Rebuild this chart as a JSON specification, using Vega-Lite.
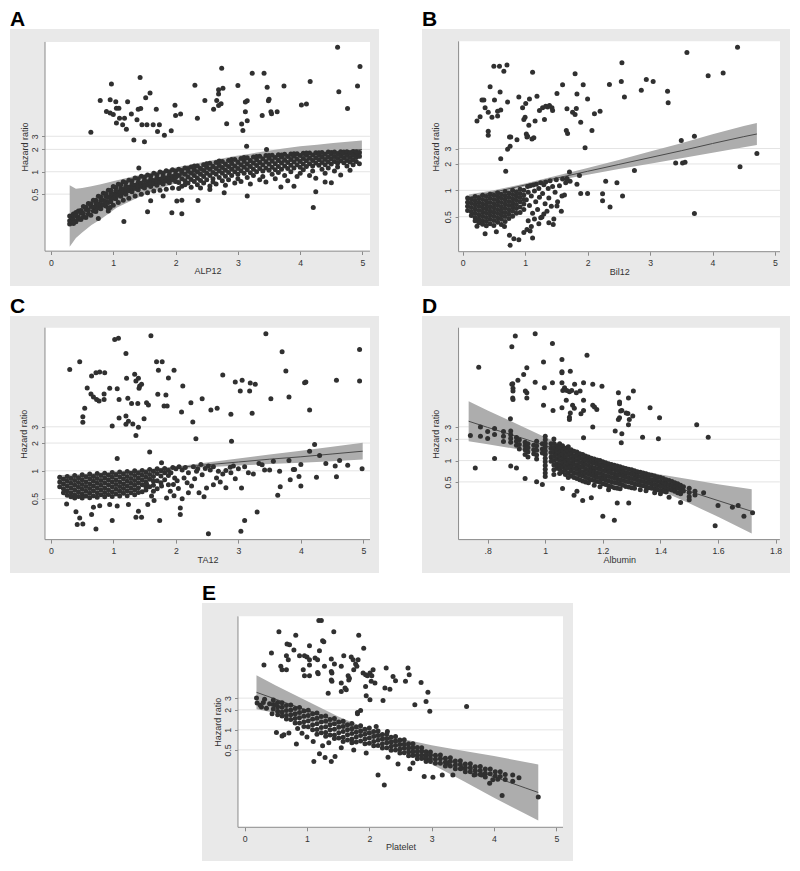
{
"$schema":"https://vega.github.io/schema/vega-lite/v6.json",
"background":"white",
"padding":{"left":10,"top":9,"right":10,"bottom":5},
"spacing":10,
"config":{
 "view":{"stroke":null},
 "font":"Liberation Sans",
 "title":{"fontSize":21,"fontWeight":"bold","anchor":"start","offset":-1,"color":"#000000","font":"Liberation Sans"},
 "axis":{"domain":false,"grid":false,"tickSize":3.5,"tickColor":"#8a8a8a","tickWidth":1,"labelFontSize":8.7,"labelColor":"#333333","labelFont":"Liberation Sans","titleFont":"Liberation Sans","titleFontSize":9,"titleFontWeight":"normal","titleColor":"#333333","labelFlush":false,"labelOverlap":false,"zindex":1,"titleBaseline":"alphabetic"},
 "axisX":{"labelPadding":3.5,"titleY":22.5,"format":"~g"},
 "axisY":{"labelAngle":-90,"labelAlign":"center","labelBaseline":"alphabetic","labelPadding":4.5,"titleAngle":-90}
},
"datasets":{
 "g":[{"t":-0.693147},{"t":0},{"t":0.693147},{"t":1.098612}],
 "ac":[{"x":0.3,"lo":-2.32,"hi":-0.42,"fit":-1.47},{"x":0.4,"lo":-2.05,"hi":-0.53,"fit":-1.35},{"x":0.5,"lo":-1.88,"hi":-0.5,"fit":-1.24},{"x":0.65,"lo":-1.65,"hi":-0.45,"fit":-1.1},{"x":0.8,"lo":-1.47,"hi":-0.39,"fit":-0.96},{"x":1.06,"lo":-1.11,"hi":-0.26,"fit":-0.72},{"x":1.33,"lo":-0.86,"hi":-0.14,"fit":-0.53},{"x":1.6,"lo":-0.63,"hi":-0.03,"fit":-0.37},{"x":1.85,"lo":-0.45,"hi":0.07,"fit":-0.24},{"x":2.12,"lo":-0.28,"hi":0.18,"fit":-0.1},{"x":2.39,"lo":-0.14,"hi":0.28,"fit":0.02},{"x":2.66,"lo":-0.03,"hi":0.38,"fit":0.12},{"x":2.93,"lo":0.07,"hi":0.48,"fit":0.2},{"x":3.2,"lo":0.15,"hi":0.56,"fit":0.29},{"x":3.46,"lo":0.22,"hi":0.64,"fit":0.37},{"x":3.73,"lo":0.28,"hi":0.72,"fit":0.44},{"x":4.0,"lo":0.33,"hi":0.79,"fit":0.5},{"x":4.27,"lo":0.36,"hi":0.84,"fit":0.56},{"x":4.53,"lo":0.38,"hi":0.89,"fit":0.61},{"x":4.99,"lo":0.4,"hi":0.97,"fit":0.69}],
 "bc":[{"x":0.1,"lo":-0.27,"hi":-0.11,"fit":-0.19},{"x":0.5,"lo":-0.1,"hi":0.0,"fit":-0.05},{"x":1.0,"lo":0.1,"hi":0.18,"fit":0.14},{"x":1.5,"lo":0.26,"hi":0.38,"fit":0.32},{"x":2.0,"lo":0.41,"hi":0.59,"fit":0.5},{"x":2.5,"lo":0.56,"hi":0.8,"fit":0.68},{"x":3.0,"lo":0.7,"hi":1.02,"fit":0.86},{"x":3.5,"lo":0.84,"hi":1.24,"fit":1.04},{"x":4.0,"lo":0.99,"hi":1.47,"fit":1.23},{"x":4.5,"lo":1.13,"hi":1.69,"fit":1.41},{"x":4.71,"lo":1.19,"hi":1.77,"fit":1.48}],
 "cc":[{"x":0.12,"lo":-0.25,"hi":-0.11,"fit":-0.18},{"x":0.5,"lo":-0.18,"hi":-0.08,"fit":-0.13},{"x":1.0,"lo":-0.09,"hi":-0.02,"fit":-0.06},{"x":1.5,"lo":-0.02,"hi":0.04,"fit":0.01},{"x":2.0,"lo":0.04,"hi":0.11,"fit":0.08},{"x":2.5,"lo":0.09,"hi":0.21,"fit":0.15},{"x":3.0,"lo":0.13,"hi":0.31,"fit":0.22},{"x":3.5,"lo":0.17,"hi":0.41,"fit":0.29},{"x":4.0,"lo":0.2,"hi":0.5,"fit":0.35},{"x":4.5,"lo":0.24,"hi":0.6,"fit":0.42},{"x":4.99,"lo":0.28,"hi":0.7,"fit":0.49}],
 "dc":[{"x":0.734,"lo":0.63,"hi":1.93,"fit":1.28},{"x":0.8,"lo":0.53,"hi":1.63,"fit":1.08},{"x":0.9,"lo":0.38,"hi":1.2,"fit":0.79},{"x":1.0,"lo":0.22,"hi":0.76,"fit":0.49},{"x":1.1,"lo":0.03,"hi":0.35,"fit":0.19},{"x":1.2,"lo":-0.22,"hi":0.0,"fit":-0.11},{"x":1.3,"lo":-0.56,"hi":-0.26,"fit":-0.41},{"x":1.4,"lo":-0.97,"hi":-0.45,"fit":-0.71},{"x":1.5,"lo":-1.39,"hi":-0.61,"fit":-1.0},{"x":1.6,"lo":-1.83,"hi":-0.77,"fit":-1.3},{"x":1.717,"lo":-2.37,"hi":-0.93,"fit":-1.65}],
 "ec":[{"x":0.19,"lo":0.71,"hi":1.89,"fit":1.3},{"x":0.5,"lo":0.58,"hi":1.54,"fit":1.06},{"x":1.0,"lo":0.36,"hi":1.0,"fit":0.68},{"x":1.5,"lo":0.12,"hi":0.46,"fit":0.29},{"x":2.0,"lo":-0.19,"hi":0.01,"fit":-0.09},{"x":2.5,"lo":-0.64,"hi":-0.3,"fit":-0.47},{"x":3.0,"lo":-1.19,"hi":-0.53,"fit":-0.86},{"x":3.5,"lo":-1.76,"hi":-0.72,"fit":-1.24},{"x":4.0,"lo":-2.35,"hi":-0.91,"fit":-1.63},{"x":4.5,"lo":-2.91,"hi":-1.11,"fit":-2.01},{"x":4.71,"lo":-3.14,"hi":-1.2,"fit":-2.17}],
 "a":[{"x":4.6,"y":3.86},{"x":4.96,"y":3.26},{"x":2.74,"y":3.21},{"x":3.23,"y":3.05},{"x":3.42,"y":3.05},{"x":1.43,"y":2.92},{"x":0.97,"y":2.72},{"x":4.16,"y":2.8},{"x":4.92,"y":2.66},{"x":4.62,"y":2.48},{"x":2.31,"y":2.68},{"x":3.0,"y":2.67},{"x":3.47,"y":2.62},{"x":3.74,"y":2.66},{"x":2.76,"y":2.59},{"x":2.69,"y":2.54},{"x":2.69,"y":2.41},{"x":1.59,"y":2.44},{"x":1.52,"y":2.29},{"x":0.79,"y":2.21},{"x":0.95,"y":2.23},{"x":1.04,"y":2.17},{"x":1.23,"y":2.17},{"x":1.99,"y":2.06},{"x":2.47,"y":2.21},{"x":2.66,"y":2.21},{"x":2.73,"y":2.11},{"x":2.69,"y":2.05},{"x":2.61,"y":1.94},{"x":3.15,"y":2.2},{"x":3.12,"y":2.16},{"x":3.5,"y":2.25},{"x":3.49,"y":2.2},{"x":4.02,"y":2.07},{"x":4.1,"y":2.1},{"x":4.76,"y":1.96},{"x":0.89,"y":1.87},{"x":0.95,"y":1.82},{"x":1.0,"y":1.77},{"x":1.05,"y":1.97},{"x":1.09,"y":1.97},{"x":1.1,"y":1.66},{"x":1.18,"y":1.66},{"x":1.05,"y":1.51},{"x":1.15,"y":1.46},{"x":1.21,"y":1.32},{"x":1.29,"y":1.79},{"x":1.4,"y":1.94},{"x":1.44,"y":1.96},{"x":1.38,"y":1.61},{"x":1.46,"y":1.46},{"x":1.54,"y":1.46},{"x":1.64,"y":1.46},{"x":1.69,"y":1.94},{"x":1.74,"y":1.46},{"x":1.71,"y":1.25},{"x":1.82,"y":1.13},{"x":1.93,"y":1.27},{"x":2.0,"y":1.74},{"x":2.08,"y":1.79},{"x":2.35,"y":1.66},{"x":2.82,"y":1.49},{"x":3.12,"y":1.86},{"x":3.15,"y":1.58},{"x":3.06,"y":1.48},{"x":3.08,"y":1.28},{"x":3.39,"y":1.74},{"x":3.54,"y":1.8},{"x":3.53,"y":1.86},{"x":3.63,"y":1.86},{"x":0.64,"y":1.22},{"x":1.33,"y":0.98},{"x":1.5,"y":0.93},{"x":3.14,"y":0.79},{"x":3.46,"y":0.69},{"x":1.41,"y":0.12},
 {"x":0.3,"y":-1.37},{"x":0.3,"y":-1.52},{"x":0.3,"y":-1.62},{"x":0.33,"y":-1.4},{"x":0.33,"y":-1.46},{"x":0.33,"y":-1.55},{"x":0.36,"y":-1.31},{"x":0.36,"y":-1.48},{"x":0.36,"y":-1.6},{"x":0.4,"y":-1.26},{"x":0.4,"y":-1.36},{"x":0.4,"y":-1.55},{"x":0.44,"y":-1.22},{"x":0.44,"y":-1.4},{"x":0.44,"y":-1.47},{"x":0.48,"y":-1.2},{"x":0.48,"y":-1.28},{"x":0.48,"y":-1.48},{"x":0.52,"y":-1.08},{"x":0.52,"y":-1.29},{"x":0.52,"y":-1.4},{"x":0.56,"y":-1.1},{"x":0.56,"y":-1.17},{"x":0.56,"y":-1.42},{"x":0.6,"y":-0.98},{"x":0.6,"y":-1.19},{"x":0.6,"y":-1.31},{"x":0.64,"y":-0.99},{"x":0.64,"y":-1.08},{"x":0.64,"y":-1.35},{"x":0.68,"y":-0.88},{"x":0.68,"y":-1.1},{"x":0.68,"y":-1.22},{"x":0.72,"y":-0.88},{"x":0.72,"y":-0.97},{"x":0.72,"y":-1.23},{"x":0.72,"y":-1.1},{"x":0.76,"y":-0.76},{"x":0.76,"y":-0.99},{"x":0.76,"y":-1.12},{"x":0.8,"y":-0.78},{"x":0.8,"y":-0.88},{"x":0.8,"y":-1.15},{"x":0.8,"y":-1.02},{"x":0.84,"y":-0.67},{"x":0.84,"y":-0.89},{"x":0.84,"y":-1.03},{"x":0.88,"y":-0.68},{"x":0.88,"y":-0.77},{"x":0.88,"y":-1.06},{"x":0.88,"y":-0.92},{"x":0.92,"y":-0.57},{"x":0.92,"y":-0.79},{"x":0.92,"y":-0.95},{"x":0.92,"y":-1.12},{"x":0.96,"y":-0.57},{"x":0.96,"y":-0.69},{"x":0.96,"y":-0.93},{"x":0.96,"y":-0.82},{"x":1.0,"y":-0.46},{"x":1.0,"y":-0.7},{"x":1.0,"y":-0.82},{"x":1.0,"y":-1.04},{"x":1.04,"y":-0.49},{"x":1.04,"y":-0.6},{"x":1.04,"y":-0.84},{"x":1.04,"y":-0.72},{"x":1.08,"y":-0.39},{"x":1.08,"y":-0.62},{"x":1.08,"y":-0.73},{"x":1.08,"y":-0.95},{"x":1.12,"y":-0.4},{"x":1.12,"y":-0.52},{"x":1.12,"y":-0.76},{"x":1.12,"y":-0.65},{"x":1.16,"y":-0.31},{"x":1.16,"y":-0.55},{"x":1.16,"y":-0.66},{"x":1.16,"y":-0.88},{"x":1.2,"y":-0.34},{"x":1.2,"y":-0.46},{"x":1.2,"y":-0.7},{"x":1.2,"y":-0.58},{"x":1.25,"y":-0.26},{"x":1.25,"y":-0.48},{"x":1.25,"y":-0.59},{"x":1.25,"y":-0.82},{"x":1.3,"y":-0.28},{"x":1.3,"y":-0.39},{"x":1.3,"y":-0.62},{"x":1.3,"y":-0.5},{"x":1.35,"y":-0.19},{"x":1.35,"y":-0.42},{"x":1.35,"y":-0.52},{"x":1.35,"y":-0.75},{"x":1.4,"y":-0.22},{"x":1.4,"y":-0.33},{"x":1.4,"y":-0.56},{"x":1.4,"y":-0.45},{"x":1.45,"y":-0.14},{"x":1.45,"y":-0.36},{"x":1.45,"y":-0.46},{"x":1.45,"y":-0.7},{"x":1.5,"y":-0.17},{"x":1.5,"y":-0.27},{"x":1.5,"y":-0.5},{"x":1.5,"y":-0.4},{"x":1.55,"y":-0.1},{"x":1.55,"y":-0.31},{"x":1.55,"y":-0.41},{"x":1.55,"y":-0.65},{"x":1.6,"y":-0.13},{"x":1.6,"y":-0.23},{"x":1.6,"y":-0.46},{"x":1.6,"y":-0.35},{"x":1.65,"y":-0.05},{"x":1.65,"y":-0.27},{"x":1.65,"y":-0.37},{"x":1.65,"y":-0.6},{"x":1.7,"y":-0.09},{"x":1.7,"y":-0.19},{"x":1.7,"y":-0.42},{"x":1.7,"y":-0.3},{"x":1.75,"y":-0.01},{"x":1.75,"y":-0.23},{"x":1.75,"y":-0.33},{"x":1.75,"y":-0.57},{"x":1.8,"y":-0.05},{"x":1.8,"y":-0.15},{"x":1.8,"y":-0.38},{"x":1.8,"y":-0.26},{"x":1.85,"y":0.03},{"x":1.85,"y":-0.19},{"x":1.85,"y":-0.29},{"x":1.85,"y":-0.54},{"x":1.9,"y":-0.01},{"x":1.9,"y":-0.11},{"x":1.9,"y":-0.34},{"x":1.9,"y":-0.22},{"x":1.95,"y":0.06},{"x":1.95,"y":-0.15},{"x":1.95,"y":-0.25},{"x":1.95,"y":-0.5},{"x":2.0,"y":0.02},{"x":2.0,"y":-0.08},{"x":2.0,"y":-0.3},{"x":2.0,"y":-0.18},
 {"x":2.05,"y":0.08},{"x":2.05,"y":-0.12},{"x":2.05,"y":-0.33},{"x":2.05,"y":-0.52},{"x":2.1,"y":-0.02},{"x":2.1,"y":0.04},{"x":2.1,"y":-0.22},{"x":2.1,"y":-0.45},{"x":2.15,"y":0.12},{"x":2.15,"y":-0.08},{"x":2.15,"y":-0.28},{"x":2.15,"y":-0.4},{"x":2.2,"y":0.02},{"x":2.2,"y":-0.16},{"x":2.2,"y":-0.35},{"x":2.2,"y":0.1},{"x":2.25,"y":0.15},{"x":2.25,"y":-0.04},{"x":2.25,"y":-0.24},{"x":2.25,"y":-0.48},{"x":2.3,"y":0.06},{"x":2.3,"y":-0.12},{"x":2.3,"y":-0.3},{"x":2.3,"y":0.18},{"x":2.35,"y":0.18},{"x":2.35,"y":0.0},{"x":2.35,"y":-0.2},{"x":2.35,"y":-0.4},{"x":2.4,"y":0.1},{"x":2.4,"y":-0.08},{"x":2.4,"y":-0.27},{"x":2.4,"y":-0.5},{"x":2.45,"y":0.22},{"x":2.45,"y":0.04},{"x":2.45,"y":-0.15},{"x":2.45,"y":-0.35},{"x":2.5,"y":0.14},{"x":2.5,"y":-0.05},{"x":2.5,"y":-0.25},{"x":2.5,"y":0.25},{"x":2.55,"y":0.26},{"x":2.55,"y":0.08},{"x":2.55,"y":-0.12},{"x":2.55,"y":-0.44},{"x":2.6,"y":0.17},{"x":2.6,"y":-0.02},{"x":2.6,"y":-0.22},{"x":2.6,"y":-0.32},{"x":2.65,"y":0.29},{"x":2.65,"y":0.1},{"x":2.65,"y":-0.08},{"x":2.65,"y":-0.38},{"x":2.7,"y":0.2},{"x":2.7,"y":0.02},{"x":2.7,"y":-0.18},{"x":2.7,"y":0.33},{"x":2.75,"y":0.32},{"x":2.75,"y":0.13},{"x":2.75,"y":-0.05},{"x":2.75,"y":-0.28},{"x":2.8,"y":0.24},{"x":2.8,"y":0.05},{"x":2.8,"y":-0.14},{"x":2.8,"y":-0.42},{"x":2.85,"y":0.35},{"x":2.85,"y":0.16},{"x":2.85,"y":-0.02},{"x":2.85,"y":-0.25},{"x":2.9,"y":0.26},{"x":2.9,"y":0.08},{"x":2.9,"y":-0.12},{"x":2.9,"y":0.38},{"x":2.95,"y":0.38},{"x":2.95,"y":0.18},{"x":2.95,"y":0.0},{"x":2.95,"y":-0.35},{"x":3.0,"y":0.3},{"x":3.0,"y":0.1},{"x":3.0,"y":-0.08},{"x":3.0,"y":-0.22},{"x":3.05,"y":0.41},{"x":3.05,"y":0.22},{"x":3.05,"y":0.03},{"x":3.05,"y":-0.3},{"x":3.1,"y":0.33},{"x":3.1,"y":0.14},{"x":3.1,"y":-0.05},{"x":3.1,"y":0.44},{"x":3.15,"y":0.43},{"x":3.15,"y":0.24},{"x":3.15,"y":0.06},{"x":3.15,"y":-0.18},{"x":3.2,"y":0.35},{"x":3.2,"y":0.16},{"x":3.2,"y":-0.03},{"x":3.2,"y":-0.38},{"x":3.25,"y":0.46},{"x":3.25,"y":0.27},{"x":3.25,"y":0.08},{"x":3.25,"y":-0.12},{"x":3.3,"y":0.37},{"x":3.3,"y":0.19},{"x":3.3,"y":0.0},{"x":3.3,"y":0.47},{"x":3.35,"y":0.48},{"x":3.35,"y":0.29},{"x":3.35,"y":0.1},{"x":3.35,"y":-0.25},{"x":3.4,"y":0.4},{"x":3.4,"y":0.21},{"x":3.4,"y":0.02},{"x":3.4,"y":-0.15},{"x":3.45,"y":0.5},{"x":3.45,"y":0.31},{"x":3.45,"y":0.12},{"x":3.45,"y":-0.32},{"x":3.5,"y":0.42},{"x":3.5,"y":0.23},{"x":3.5,"y":0.05},{"x":3.5,"y":0.5},{"x":3.55,"y":0.51},{"x":3.55,"y":0.33},{"x":3.55,"y":0.14},{"x":3.55,"y":-0.08},{"x":3.6,"y":0.44},{"x":3.6,"y":0.25},{"x":3.6,"y":0.06},{"x":3.6,"y":-0.22},{"x":3.65,"y":0.53},{"x":3.65,"y":0.35},{"x":3.65,"y":0.16},{"x":3.65,"y":-0.02},{"x":3.7,"y":0.46},{"x":3.7,"y":0.27},{"x":3.7,"y":0.08},{"x":3.7,"y":0.52},{"x":3.75,"y":0.54},{"x":3.75,"y":0.36},{"x":3.75,"y":0.18},{"x":3.75,"y":-0.12},{"x":3.8,"y":0.47},{"x":3.8,"y":0.29},{"x":3.8,"y":0.1},{"x":3.8,"y":-0.28},{"x":3.85,"y":0.55},{"x":3.85,"y":0.38},{"x":3.85,"y":0.2},{"x":3.85,"y":0.0},{"x":3.9,"y":0.48},{"x":3.9,"y":0.3},{"x":3.9,"y":0.12},{"x":3.9,"y":0.56},{"x":3.95,"y":0.56},{"x":3.95,"y":0.39},{"x":3.95,"y":0.22},{"x":3.95,"y":-0.15},{"x":4.0,"y":0.5},{"x":4.0,"y":0.32},{"x":4.0,"y":0.14},{"x":4.0,"y":-0.05},{"x":4.05,"y":0.57},{"x":4.05,"y":0.41},{"x":4.05,"y":0.24},{"x":4.05,"y":0.06},{"x":4.1,"y":0.51},{"x":4.1,"y":0.34},{"x":4.1,"y":0.16},{"x":4.1,"y":0.58},{"x":4.15,"y":0.58},{"x":4.15,"y":0.42},{"x":4.15,"y":0.25},{"x":4.15,"y":-0.12},{"x":4.2,"y":0.52},{"x":4.2,"y":0.35},{"x":4.2,"y":0.18},{"x":4.2,"y":0.02},{"x":4.25,"y":0.59},{"x":4.25,"y":0.43},{"x":4.25,"y":0.27},{"x":4.25,"y":-0.2},{"x":4.3,"y":0.53},{"x":4.3,"y":0.37},{"x":4.3,"y":0.2},{"x":4.3,"y":0.59},{"x":4.35,"y":0.6},{"x":4.35,"y":0.45},{"x":4.35,"y":0.29},{"x":4.35,"y":0.08},{"x":4.4,"y":0.54},{"x":4.4,"y":0.38},{"x":4.4,"y":0.22},{"x":4.4,"y":-0.05},{"x":4.45,"y":0.61},{"x":4.45,"y":0.46},{"x":4.45,"y":0.3},{"x":4.45,"y":0.12},{"x":4.5,"y":0.55},{"x":4.5,"y":0.4},{"x":4.5,"y":0.24},{"x":4.5,"y":0.6},{"x":4.55,"y":0.61},{"x":4.55,"y":0.47},{"x":4.55,"y":0.32},{"x":4.55,"y":0.02},{"x":4.6,"y":0.56},{"x":4.6,"y":0.41},{"x":4.6,"y":0.26},{"x":4.6,"y":0.15},{"x":4.65,"y":0.62},{"x":4.65,"y":0.49},{"x":4.65,"y":0.34},{"x":4.65,"y":-0.1},{"x":4.7,"y":0.57},{"x":4.7,"y":0.43},{"x":4.7,"y":0.28},{"x":4.7,"y":0.61},{"x":4.75,"y":0.62},{"x":4.75,"y":0.5},{"x":4.75,"y":0.35},{"x":4.75,"y":0.18},{"x":4.8,"y":0.58},{"x":4.8,"y":0.44},{"x":4.8,"y":0.3},{"x":4.8,"y":0.05},{"x":4.85,"y":0.63},{"x":4.85,"y":0.51},{"x":4.85,"y":0.37},{"x":4.85,"y":0.22},{"x":4.9,"y":0.59},{"x":4.9,"y":0.46},{"x":4.9,"y":0.32},{"x":4.9,"y":0.62},{"x":4.95,"y":0.6},{"x":4.95,"y":0.48},{"x":4.95,"y":0.25},
 {"x":0.36,"y":-1.57},{"x":0.76,"y":-1.45},{"x":0.92,"y":-1.22},{"x":0.95,"y":-1.11},{"x":1.17,"y":-1.54},{"x":1.55,"y":-1.24},{"x":1.94,"y":-1.27},{"x":2.1,"y":-1.3},{"x":2.36,"y":-0.89},{"x":2.78,"y":-0.65},{"x":3.15,"y":-0.75},{"x":3.69,"y":-0.47},{"x":4.21,"y":-1.11},{"x":4.25,"y":-0.62},{"x":4.5,"y":-0.34},{"x":1.6,"y":-0.9},{"x":1.8,"y":-0.75},{"x":2.02,"y":-0.91},{"x":2.1,"y":-0.88},{"x":2.55,"y":-0.55},{"x":3.9,"y":-0.45},{"x":4.4,"y":-0.32}],
 "b":[{"x":4.4,"y":3.76},{"x":3.59,"y":3.62},{"x":2.55,"y":3.35},{"x":0.71,"y":3.29},{"x":0.5,"y":3.26},{"x":0.59,"y":3.26},{"x":0.66,"y":3.13},{"x":1.12,"y":3.1},{"x":1.8,"y":3.06},{"x":3.93,"y":3.01},{"x":4.17,"y":3.08},{"x":2.94,"y":2.91},{"x":3.05,"y":2.86},{"x":2.54,"y":2.86},{"x":1.6,"y":2.77},{"x":2.35,"y":2.78},{"x":0.44,"y":2.72},{"x":0.6,"y":2.58},{"x":2.86,"y":2.63},{"x":3.28,"y":2.6},{"x":1.93,"y":2.77},{"x":2.59,"y":2.45},{"x":0.31,"y":2.37},{"x":0.34,"y":2.37},{"x":0.51,"y":2.37},{"x":0.72,"y":2.32},{"x":0.9,"y":2.45},{"x":1.07,"y":2.4},{"x":1.19,"y":2.47},{"x":1.51,"y":2.54},{"x":1.83,"y":2.53},{"x":2.0,"y":2.4},{"x":3.29,"y":2.3},{"x":1.01,"y":2.28},{"x":0.36,"y":2.17},{"x":0.41,"y":2.05},{"x":0.56,"y":2.08},{"x":0.61,"y":2.11},{"x":0.56,"y":1.95},{"x":0.47,"y":1.92},{"x":0.23,"y":1.82},{"x":0.28,"y":1.93},{"x":0.96,"y":2.17},{"x":1.0,"y":1.92},{"x":0.98,"y":1.86},{"x":1.06,"y":1.71},{"x":1.16,"y":1.82},{"x":1.31,"y":1.86},{"x":1.23,"y":2.1},{"x":1.28,"y":2.17},{"x":1.39,"y":2.23},{"x":1.43,"y":2.17},{"x":1.36,"y":2.19},{"x":1.33,"y":2.21},{"x":1.44,"y":2.1},{"x":1.67,"y":2.14},{"x":1.76,"y":2.05},{"x":1.82,"y":2.15},{"x":1.8,"y":1.99},{"x":1.89,"y":1.79},{"x":2.11,"y":2.01},{"x":2.2,"y":2.08},{"x":2.07,"y":1.57},{"x":0.41,"y":1.55},{"x":0.41,"y":1.45},{"x":0.75,"y":1.4},{"x":0.77,"y":1.4},{"x":0.87,"y":1.33},{"x":1.03,"y":1.4},{"x":1.02,"y":1.48},{"x":1.04,"y":1.42},{"x":1.14,"y":1.38},{"x":1.11,"y":1.35},{"x":1.66,"y":1.57},{"x":1.68,"y":1.49},{"x":1.96,"y":1.12},{"x":0.61,"y":0.83},{"x":0.72,"y":1.08},{"x":0.76,"y":1.16},{"x":0.69,"y":0.5},{"x":3.71,"y":1.42},{"x":3.5,"y":1.31},{"x":4.71,"y":0.97},{"x":3.41,"y":0.72},{"x":3.52,"y":0.72},{"x":3.56,"y":0.74},{"x":4.44,"y":0.62},{"x":1.71,"y":0.48},{"x":1.67,"y":0.31},{"x":1.87,"y":0.39},{"x":2.75,"y":0.52},{"x":2.29,"y":0.24},{"x":2.47,"y":0.2},{"x":1.89,"y":-0.08},{"x":2.0,"y":-0.08},{"x":2.24,"y":-0.09},{"x":2.24,"y":-0.27},{"x":2.36,"y":-0.44},{"x":2.56,"y":-0.15},{"x":3.71,"y":-0.61},
 {"x":0.08,"y":-0.2},{"x":0.08,"y":-0.31},{"x":0.08,"y":-0.42},{"x":0.08,"y":-0.53},{"x":0.14,"y":-0.23},{"x":0.14,"y":-0.34},{"x":0.14,"y":-0.45},{"x":0.14,"y":-0.56},{"x":0.14,"y":-0.66},{"x":0.2,"y":-0.16},{"x":0.2,"y":-0.27},{"x":0.2,"y":-0.38},{"x":0.2,"y":-0.49},{"x":0.2,"y":-0.6},{"x":0.2,"y":-0.71},{"x":0.2,"y":-0.8},{"x":0.26,"y":-0.2},{"x":0.26,"y":-0.31},{"x":0.26,"y":-0.42},{"x":0.26,"y":-0.53},{"x":0.26,"y":-0.64},{"x":0.26,"y":-0.75},{"x":0.26,"y":-0.85},{"x":0.32,"y":-0.13},{"x":0.32,"y":-0.24},{"x":0.32,"y":-0.35},{"x":0.32,"y":-0.46},{"x":0.32,"y":-0.57},{"x":0.32,"y":-0.68},{"x":0.32,"y":-0.79},{"x":0.32,"y":-0.89},{"x":0.38,"y":-0.16},{"x":0.38,"y":-0.27},{"x":0.38,"y":-0.38},{"x":0.38,"y":-0.49},{"x":0.38,"y":-0.6},{"x":0.38,"y":-0.71},{"x":0.38,"y":-0.82},{"x":0.38,"y":-0.93},{"x":0.44,"y":-0.1},{"x":0.44,"y":-0.21},{"x":0.44,"y":-0.32},{"x":0.44,"y":-0.43},{"x":0.44,"y":-0.54},{"x":0.44,"y":-0.65},{"x":0.44,"y":-0.76},{"x":0.44,"y":-0.88},{"x":0.5,"y":-0.13},{"x":0.5,"y":-0.24},{"x":0.5,"y":-0.35},{"x":0.5,"y":-0.46},{"x":0.5,"y":-0.57},{"x":0.5,"y":-0.68},{"x":0.5,"y":-0.79},{"x":0.5,"y":-0.92},{"x":0.56,"y":-0.06},{"x":0.56,"y":-0.17},{"x":0.56,"y":-0.28},{"x":0.56,"y":-0.39},{"x":0.56,"y":-0.5},{"x":0.56,"y":-0.61},{"x":0.56,"y":-0.72},{"x":0.56,"y":-0.84},{"x":0.62,"y":-0.1},{"x":0.62,"y":-0.21},{"x":0.62,"y":-0.32},{"x":0.62,"y":-0.43},{"x":0.62,"y":-0.54},{"x":0.62,"y":-0.65},{"x":0.62,"y":-0.76},{"x":0.62,"y":-0.9},{"x":0.68,"y":-0.03},{"x":0.68,"y":-0.14},{"x":0.68,"y":-0.25},{"x":0.68,"y":-0.36},{"x":0.68,"y":-0.47},{"x":0.68,"y":-0.58},{"x":0.68,"y":-0.69},{"x":0.68,"y":-0.82},{"x":0.74,"y":-0.07},{"x":0.74,"y":-0.18},{"x":0.74,"y":-0.29},{"x":0.74,"y":-0.4},{"x":0.74,"y":-0.51},{"x":0.74,"y":-0.62},{"x":0.74,"y":-0.74},{"x":0.8,"y":0.0},{"x":0.8,"y":-0.11},{"x":0.8,"y":-0.22},{"x":0.8,"y":-0.33},{"x":0.8,"y":-0.44},{"x":0.8,"y":-0.55},{"x":0.8,"y":-0.68},{"x":0.86,"y":-0.04},{"x":0.86,"y":-0.15},{"x":0.86,"y":-0.26},{"x":0.86,"y":-0.37},{"x":0.86,"y":-0.48},{"x":0.86,"y":-0.6},{"x":0.92,"y":0.03},{"x":0.92,"y":-0.08},{"x":0.92,"y":-0.19},{"x":0.92,"y":-0.3},{"x":0.92,"y":-0.44},{"x":0.92,"y":-0.58},{"x":0.98,"y":0.0},{"x":0.98,"y":-0.12},{"x":0.98,"y":-0.24},{"x":0.98,"y":-0.36},{"x":0.98,"y":-0.5},
 {"x":1.02,"y":-0.25},{"x":1.04,"y":0.1},{"x":1.05,"y":-0.05},{"x":1.07,"y":-0.4},{"x":1.08,"y":0.12},{"x":1.1,"y":-0.15},{"x":1.12,"y":-0.6},{"x":1.13,"y":0.14},{"x":1.15,"y":-0.02},{"x":1.17,"y":-0.3},{"x":1.18,"y":0.16},{"x":1.2,"y":-0.5},{"x":1.22,"y":0.05},{"x":1.23,"y":-0.18},{"x":1.25,"y":0.2},{"x":1.27,"y":-0.7},{"x":1.28,"y":-0.08},{"x":1.3,"y":0.15},{"x":1.32,"y":-0.35},{"x":1.33,"y":0.22},{"x":1.35,"y":-0.55},{"x":1.37,"y":0.05},{"x":1.38,"y":-0.2},{"x":1.4,"y":0.25},{"x":1.42,"y":-0.42},{"x":1.44,"y":0.1},{"x":1.46,"y":-0.75},{"x":1.48,"y":-0.05},{"x":1.5,"y":0.28},{"x":1.52,"y":-0.3},{"x":1.55,"y":0.12},{"x":1.58,"y":-0.55},{"x":1.6,"y":0.3},{"x":1.63,"y":-0.12},{"x":1.65,"y":0.2},{"x":1.05,"y":-0.8},{"x":1.1,"y":-0.95},{"x":1.15,"y":-0.75},{"x":1.22,"y":-0.88},{"x":1.3,"y":-0.62},{"x":1.38,"y":-0.85},{"x":1.45,"y":-0.9},{"x":0.36,"y":-1.14},{"x":0.54,"y":-1.09},{"x":0.75,"y":-1.18},{"x":0.76,"y":-1.44},{"x":0.82,"y":-1.27},{"x":0.9,"y":-1.3},{"x":0.98,"y":-1.11},{"x":1.12,"y":-1.25},{"x":0.67,"y":-0.95},{"x":1.03,"y":-1.03},{"x":1.08,"y":-1.07},{"x":1.25,"y":-0.72},{"x":1.51,"y":-0.41},{"x":1.59,"y":-0.15},{"x":1.72,"y":0.24},{"x":1.83,"y":0.16},{"x":1.67,"y":0.29},{"x":0.23,"y":-0.94}],
 "c":[{"x":3.44,"y":3.42},{"x":1.02,"y":3.28},{"x":1.08,"y":3.31},{"x":1.6,"y":3.37},{"x":4.94,"y":3.03},{"x":3.7,"y":2.97},{"x":1.2,"y":2.93},{"x":0.46,"y":2.72},{"x":1.69,"y":2.72},{"x":1.78,"y":2.72},{"x":0.3,"y":2.53},{"x":0.65,"y":2.37},{"x":0.72,"y":2.45},{"x":0.78,"y":2.47},{"x":0.86,"y":2.45},{"x":1.72,"y":2.51},{"x":1.97,"y":2.51},{"x":2.75,"y":2.39},{"x":3.76,"y":2.49},{"x":1.21,"y":2.31},{"x":1.34,"y":2.41},{"x":1.4,"y":2.31},{"x":1.36,"y":2.24},{"x":1.45,"y":2.16},{"x":1.42,"y":2.12},{"x":1.88,"y":2.32},{"x":2.11,"y":2.12},{"x":2.95,"y":2.22},{"x":3.06,"y":2.26},{"x":3.19,"y":2.19},{"x":3.27,"y":2.16},{"x":4.06,"y":2.2},{"x":4.08,"y":2.22},{"x":4.57,"y":2.26},{"x":4.94,"y":2.24},{"x":0.58,"y":2.07},{"x":0.64,"y":1.92},{"x":0.68,"y":1.84},{"x":0.73,"y":1.78},{"x":0.77,"y":1.74},{"x":0.85,"y":1.78},{"x":0.85,"y":1.92},{"x":0.94,"y":2.06},{"x":1.06,"y":2.05},{"x":1.09,"y":1.78},{"x":1.23,"y":1.81},{"x":1.29,"y":1.68},{"x":1.39,"y":1.68},{"x":1.41,"y":2.06},{"x":1.53,"y":1.7},{"x":1.56,"y":1.64},{"x":1.71,"y":1.91},{"x":1.84,"y":1.89},{"x":1.81,"y":1.62},{"x":1.86,"y":1.62},{"x":2.09,"y":1.47},{"x":2.24,"y":1.7},{"x":2.42,"y":1.8},{"x":2.56,"y":1.52},{"x":2.66,"y":1.56},{"x":2.88,"y":1.41},{"x":3.03,"y":1.99},{"x":3.18,"y":1.99},{"x":3.22,"y":1.44},{"x":3.52,"y":1.8},{"x":3.81,"y":1.84},{"x":4.14,"y":1.52},{"x":0.54,"y":1.56},{"x":0.51,"y":1.35},{"x":0.51,"y":1.21},{"x":0.98,"y":1.12},{"x":1.09,"y":1.32},{"x":1.2,"y":1.37},{"x":1.24,"y":1.24},{"x":1.31,"y":1.17},{"x":1.4,"y":1.09},{"x":1.49,"y":1.3},{"x":1.36,"y":0.88},{"x":1.2,"y":1.16},{"x":2.27,"y":1.22},{"x":2.32,"y":0.8},{"x":2.89,"y":0.74},{"x":1.58,"y":0.47},{"x":1.06,"y":0.31},{"x":1.77,"y":0.2},
 {"x":0.14,"y":-0.16},{"x":0.14,"y":-0.28},{"x":0.14,"y":-0.4},{"x":0.2,"y":-0.21},{"x":0.2,"y":-0.33},{"x":0.2,"y":-0.45},{"x":0.2,"y":-0.55},{"x":0.26,"y":-0.14},{"x":0.26,"y":-0.26},{"x":0.26,"y":-0.38},{"x":0.26,"y":-0.5},{"x":0.26,"y":-0.61},{"x":0.32,"y":-0.19},{"x":0.32,"y":-0.31},{"x":0.32,"y":-0.43},{"x":0.32,"y":-0.55},{"x":0.32,"y":-0.65},{"x":0.38,"y":-0.12},{"x":0.38,"y":-0.24},{"x":0.38,"y":-0.36},{"x":0.38,"y":-0.48},{"x":0.38,"y":-0.6},{"x":0.38,"y":-0.68},{"x":0.44,"y":-0.17},{"x":0.44,"y":-0.29},{"x":0.44,"y":-0.41},{"x":0.44,"y":-0.53},{"x":0.44,"y":-0.64},{"x":0.5,"y":-0.1},{"x":0.5,"y":-0.22},{"x":0.5,"y":-0.34},{"x":0.5,"y":-0.46},{"x":0.5,"y":-0.58},{"x":0.5,"y":-0.68},{"x":0.56,"y":-0.15},{"x":0.56,"y":-0.27},{"x":0.56,"y":-0.39},{"x":0.56,"y":-0.51},{"x":0.56,"y":-0.63},{"x":0.62,"y":-0.08},{"x":0.62,"y":-0.2},{"x":0.62,"y":-0.32},{"x":0.62,"y":-0.44},{"x":0.62,"y":-0.56},{"x":0.62,"y":-0.67},{"x":0.68,"y":-0.14},{"x":0.68,"y":-0.26},{"x":0.68,"y":-0.38},{"x":0.68,"y":-0.5},{"x":0.68,"y":-0.62},{"x":0.74,"y":-0.07},{"x":0.74,"y":-0.19},{"x":0.74,"y":-0.31},{"x":0.74,"y":-0.43},{"x":0.74,"y":-0.55},{"x":0.74,"y":-0.66},{"x":0.8,"y":-0.12},{"x":0.8,"y":-0.24},{"x":0.8,"y":-0.36},{"x":0.8,"y":-0.48},{"x":0.8,"y":-0.6},{"x":0.86,"y":-0.06},{"x":0.86,"y":-0.18},{"x":0.86,"y":-0.3},{"x":0.86,"y":-0.42},{"x":0.86,"y":-0.54},{"x":0.86,"y":-0.65},{"x":0.92,"y":-0.11},{"x":0.92,"y":-0.23},{"x":0.92,"y":-0.35},{"x":0.92,"y":-0.47},{"x":0.92,"y":-0.59},{"x":0.98,"y":-0.04},{"x":0.98,"y":-0.16},{"x":0.98,"y":-0.28},{"x":0.98,"y":-0.4},{"x":0.98,"y":-0.52},{"x":0.98,"y":-0.64},{"x":1.04,"y":-0.1},{"x":1.04,"y":-0.22},{"x":1.04,"y":-0.34},{"x":1.04,"y":-0.46},{"x":1.04,"y":-0.58},{"x":1.1,"y":-0.03},{"x":1.1,"y":-0.15},{"x":1.1,"y":-0.27},{"x":1.1,"y":-0.39},{"x":1.1,"y":-0.51},{"x":1.1,"y":-0.63},{"x":1.16,"y":-0.08},{"x":1.16,"y":-0.2},{"x":1.16,"y":-0.32},{"x":1.16,"y":-0.44},{"x":1.16,"y":-0.56},{"x":1.22,"y":-0.02},{"x":1.22,"y":-0.14},{"x":1.22,"y":-0.26},{"x":1.22,"y":-0.38},{"x":1.22,"y":-0.5},{"x":1.22,"y":-0.62},{"x":1.28,"y":-0.07},{"x":1.28,"y":-0.19},{"x":1.28,"y":-0.31},{"x":1.28,"y":-0.43},{"x":1.28,"y":-0.55},{"x":1.34,"y":0.0},{"x":1.34,"y":-0.12},{"x":1.34,"y":-0.24},{"x":1.34,"y":-0.36},{"x":1.34,"y":-0.48},{"x":1.34,"y":-0.6},{"x":1.4,"y":-0.06},{"x":1.4,"y":-0.18},{"x":1.4,"y":-0.3},{"x":1.4,"y":-0.42},{"x":1.4,"y":-0.54},{"x":1.46,"y":0.01},{"x":1.46,"y":-0.11},{"x":1.46,"y":-0.23},{"x":1.46,"y":-0.35},{"x":1.46,"y":-0.52},{"x":1.52,"y":-0.04},{"x":1.52,"y":-0.16},{"x":1.52,"y":-0.28},{"x":1.52,"y":-0.4},{"x":1.52,"y":-0.48},{"x":1.58,"y":0.03},{"x":1.58,"y":-0.09},{"x":1.58,"y":-0.21},{"x":1.58,"y":-0.4},{"x":1.64,"y":-0.02},{"x":1.64,"y":-0.14},{"x":1.64,"y":-0.26},{"x":1.64,"y":-0.36},{"x":1.7,"y":0.05},{"x":1.7,"y":-0.07},{"x":1.7,"y":-0.25},{"x":1.7,"y":-0.45},{"x":1.76,"y":0.0},{"x":1.76,"y":-0.13},{"x":1.76,"y":-0.3},{"x":1.82,"y":0.06},{"x":1.82,"y":-0.05},{"x":1.82,"y":-0.22},{"x":1.88,"y":0.01},{"x":1.88,"y":-0.12},{"x":1.88,"y":-0.35},
 {"x":0.25,"y":-0.83},{"x":0.4,"y":-1.02},{"x":0.46,"y":-1.18},{"x":0.51,"y":-1.33},{"x":0.42,"y":-1.34},{"x":0.65,"y":-1.09},{"x":0.68,"y":-0.91},{"x":0.78,"y":-0.87},{"x":0.72,"y":-1.45},{"x":0.94,"y":-0.84},{"x":1.06,"y":-0.88},{"x":1.24,"y":-0.84},{"x":0.98,"y":-1.24},{"x":1.36,"y":-1.16},{"x":1.45,"y":-1.16},{"x":1.4,"y":-1.01},{"x":1.55,"y":-0.84},{"x":1.65,"y":-0.74},{"x":2.07,"y":-0.93},{"x":2.07,"y":-1.09},{"x":1.74,"y":-1.24},{"x":2.52,"y":-1.57},{"x":3.04,"y":-1.51},{"x":3.1,"y":-1.24},{"x":3.3,"y":-1.03},{"x":4.98,"y":0.05},{"x":4.25,"y":-0.16},{"x":4.0,"y":-0.38},{"x":3.97,"y":-0.14},{"x":3.9,"y":0.03},{"x":3.67,"y":-0.4},{"x":3.63,"y":-0.61},{"x":3.83,"y":-0.22},{"x":3.05,"y":-0.43},{"x":3.16,"y":-0.05},{"x":3.24,"y":-0.08},{"x":2.88,"y":-0.05},{"x":2.87,"y":0.09},{"x":2.8,"y":0.01},{"x":2.68,"y":-0.01},{"x":2.65,"y":-0.18},{"x":2.71,"y":-0.28},{"x":2.49,"y":-0.43},{"x":2.37,"y":-0.55},{"x":2.47,"y":0.06},{"x":2.52,"y":0.12},{"x":2.4,"y":0.16},{"x":2.33,"y":-0.01},{"x":2.25,"y":-0.38},{"x":2.13,"y":-0.18},{"x":2.04,"y":-0.44},{"x":1.96,"y":-0.34},{"x":1.91,"y":-0.51},{"x":1.85,"y":-0.68},{"x":1.77,"y":-0.38},{"x":1.61,"y":-0.63},{"x":1.64,"y":-0.51},{"x":1.53,"y":-0.33},{"x":4.22,"y":0.66},{"x":4.14,"y":0.49},{"x":4.3,"y":0.38},{"x":3.81,"y":0.26},{"x":3.56,"y":0.24},{"x":3.33,"y":0.18},{"x":3.42,"y":0.02},{"x":3.66,"y":-0.01},{"x":3.88,"y":0.03},{"x":4.0,"y":0.16},{"x":4.4,"y":0.18},{"x":4.55,"y":0.12},{"x":4.62,"y":0.26},{"x":4.75,"y":0.14},{"x":4.57,"y":-0.15},{"x":1.95,"y":0.08},{"x":2.0,"y":0.05},{"x":2.05,"y":0.1},{"x":2.1,"y":0.02},{"x":2.15,"y":0.08},{"x":2.2,"y":-0.05},{"x":2.28,"y":0.1},{"x":2.35,"y":0.05},{"x":2.42,"y":-0.1},{"x":2.55,"y":0.02},{"x":2.6,"y":0.1},{"x":2.75,"y":-0.08},{"x":2.92,"y":0.12},{"x":3.0,"y":0.05},{"x":3.1,"y":0.1},{"x":3.38,"y":0.15},{"x":3.5,"y":0.02},{"x":1.98,"y":-0.18},{"x":2.02,"y":-0.25},{"x":2.18,"y":-0.3},{"x":2.3,"y":-0.2},{"x":2.6,"y":-0.35},{"x":2.95,"y":-0.2},{"x":1.92,"y":-0.05},{"x":1.97,"y":-0.62},{"x":2.1,"y":-0.7},{"x":2.2,"y":-0.55},{"x":2.45,"y":-0.65},{"x":2.8,"y":-0.42}],
 "d":[{"x":0.965,"y":4.13},{"x":0.896,"y":4.05},{"x":0.884,"y":3.7},{"x":1.025,"y":3.81},{"x":1.145,"y":3.43},{"x":0.769,"y":3.04},{"x":0.994,"y":3.21},{"x":0.936,"y":3.02},{"x":0.925,"y":2.8},{"x":0.905,"y":2.61},{"x":0.884,"y":2.48},{"x":0.887,"y":2.5},{"x":0.888,"y":2.35},{"x":0.888,"y":2.26},{"x":0.887,"y":2.04},{"x":0.888,"y":1.99},{"x":0.965,"y":2.55},{"x":0.997,"y":2.37},{"x":1.025,"y":2.53},{"x":1.058,"y":3.29},{"x":1.058,"y":2.89},{"x":1.058,"y":2.86},{"x":1.087,"y":2.91},{"x":1.058,"y":2.53},{"x":1.067,"y":2.37},{"x":1.061,"y":2.28},{"x":1.075,"y":2.28},{"x":1.073,"y":1.96},{"x":1.084,"y":2.24},{"x":1.092,"y":2.28},{"x":1.102,"y":2.48},{"x":1.108,"y":2.21},{"x":1.121,"y":2.26},{"x":1.133,"y":2.53},{"x":1.133,"y":1.96},{"x":1.165,"y":2.48},{"x":1.197,"y":2.42},{"x":1.165,"y":1.8},{"x":1.179,"y":1.66},{"x":1.171,"y":1.74},{"x":1.095,"y":1.8},{"x":1.101,"y":1.7},{"x":1.087,"y":1.55},{"x":1.084,"y":1.41},{"x":1.084,"y":1.34},{"x":1.124,"y":1.52},{"x":1.133,"y":1.63},{"x":1.058,"y":1.72},{"x":1.027,"y":1.63},{"x":0.994,"y":1.8},{"x":0.936,"y":2.21},{"x":0.936,"y":2.04},{"x":0.931,"y":2.26},{"x":1.254,"y":2.21},{"x":1.258,"y":1.91},{"x":1.258,"y":1.85},{"x":1.262,"y":1.61},{"x":1.266,"y":1.63},{"x":1.281,"y":1.55},{"x":1.289,"y":2.04},{"x":1.306,"y":2.26},{"x":1.287,"y":1.53},{"x":1.292,"y":1.34},{"x":1.258,"y":1.39},{"x":1.254,"y":1.34},{"x":1.304,"y":1.45},{"x":1.289,"y":1.17},{"x":1.364,"y":1.72},{"x":1.397,"y":1.39},{"x":1.526,"y":1.17},{"x":1.566,"y":0.76},{"x":1.393,"y":0.71},{"x":1.338,"y":0.76},{"x":1.243,"y":0.96},{"x":1.266,"y":0.87},{"x":1.264,"y":0.58},{"x":1.133,"y":0.74},{"x":1.165,"y":1.09},{"x":0.879,"y":1.36},
 {"x":0.74,"y":0.82},{"x":0.757,"y":-0.24},{"x":0.775,"y":1.09},{"x":0.775,"y":0.79},{"x":0.8,"y":0.72},{"x":0.8,"y":0.95},{"x":0.824,"y":1.04},{"x":0.824,"y":0.85},{"x":0.824,"y":0.07},{"x":0.855,"y":0.79},{"x":0.855,"y":0.95},{"x":0.855,"y":0.62},{"x":0.88,"y":0.96},{"x":0.88,"y":0.84},{"x":0.88,"y":0.72},{"x":0.88,"y":0.6},{"x":0.88,"y":-0.18},{"x":0.9,"y":0.75},{"x":0.9,"y":0.63},{"x":0.9,"y":0.5},{"x":0.9,"y":-0.24},{"x":0.91,"y":0.68},{"x":0.91,"y":0.52},{"x":0.91,"y":0.38},{"x":0.93,"y":0.6},{"x":0.93,"y":0.48},{"x":0.93,"y":0.35},{"x":0.93,"y":0.2},{"x":0.93,"y":-0.58},{"x":0.94,"y":0.55},{"x":0.94,"y":0.42},{"x":0.94,"y":0.28},{"x":0.94,"y":0.12},{"x":0.96,"y":0.5},{"x":0.96,"y":0.35},{"x":0.96,"y":0.22},{"x":0.97,"y":0.63},{"x":0.97,"y":0.48},{"x":0.97,"y":0.34},{"x":0.97,"y":0.18},{"x":0.97,"y":0.05},{"x":0.97,"y":-0.69},{"x":0.99,"y":0.55},{"x":0.99,"y":0.38},{"x":0.99,"y":0.25},{"x":0.99,"y":-0.78},{"x":1.0,"y":0.79},{"x":1.0,"y":0.68},{"x":1.0,"y":0.56},{"x":1.0,"y":0.44},{"x":1.0,"y":0.32},{"x":1.0,"y":0.2},{"x":1.0,"y":0.08},{"x":1.0,"y":-0.04},{"x":1.0,"y":-0.16},{"x":1.0,"y":-0.28},{"x":1.0,"y":-0.4},{"x":1.0,"y":-0.52},{"x":1.02,"y":0.55},{"x":1.02,"y":0.4},{"x":1.02,"y":0.26},{"x":1.02,"y":0.12},{"x":1.02,"y":-0.02},{"x":1.03,"y":0.7},{"x":1.03,"y":0.56},{"x":1.03,"y":0.42},{"x":1.03,"y":0.28},{"x":1.03,"y":0.14},{"x":1.03,"y":0.0},{"x":1.03,"y":-0.14},{"x":1.03,"y":-0.3},{"x":1.03,"y":-0.45},{"x":1.04,"y":0.48},{"x":1.04,"y":0.34},{"x":1.04,"y":0.2},{"x":1.04,"y":0.05},{"x":1.04,"y":-0.1},{"x":1.04,"y":-0.25},{"x":1.05,"y":0.55},{"x":1.05,"y":0.42},{"x":1.05,"y":0.28},{"x":1.05,"y":0.14},{"x":1.05,"y":0.0},{"x":1.05,"y":-0.14},{"x":1.05,"y":-0.28},{"x":1.05,"y":-0.42},{"x":1.06,"y":0.48},{"x":1.06,"y":0.34},{"x":1.06,"y":0.2},{"x":1.06,"y":0.06},{"x":1.06,"y":-0.08},{"x":1.06,"y":-0.22},{"x":1.06,"y":-0.36},{"x":1.06,"y":-0.91},{"x":1.07,"y":0.4},{"x":1.07,"y":0.26},{"x":1.07,"y":0.12},{"x":1.07,"y":-0.02},{"x":1.07,"y":-0.16},{"x":1.07,"y":-0.3},{"x":1.07,"y":-0.45},{"x":1.08,"y":0.45},{"x":1.08,"y":0.31},{"x":1.08,"y":0.17},{"x":1.08,"y":0.03},{"x":1.08,"y":-0.11},{"x":1.08,"y":-0.25},{"x":1.08,"y":-0.4},{"x":1.08,"y":-0.55},{"x":1.09,"y":0.35},{"x":1.09,"y":0.21},{"x":1.09,"y":0.07},{"x":1.09,"y":-0.07},{"x":1.09,"y":-0.21},{"x":1.09,"y":-0.35},{"x":1.09,"y":-0.5},{"x":1.1,"y":0.3},{"x":1.1,"y":0.16},{"x":1.1,"y":0.02},{"x":1.1,"y":-0.12},{"x":1.1,"y":-0.26},{"x":1.1,"y":-0.4},{"x":1.1,"y":-0.55},{"x":1.1,"y":-1.13},{"x":1.11,"y":0.28},{"x":1.11,"y":0.14},{"x":1.11,"y":0.0},{"x":1.11,"y":-0.14},{"x":1.11,"y":-0.28},{"x":1.11,"y":-0.42},{"x":1.11,"y":-0.58},{"x":1.11,"y":-1.0},{"x":1.12,"y":0.22},{"x":1.12,"y":0.08},{"x":1.12,"y":-0.06},{"x":1.12,"y":-0.2},{"x":1.12,"y":-0.34},{"x":1.12,"y":-0.48},{"x":1.12,"y":-0.62},{"x":1.13,"y":0.2},{"x":1.13,"y":0.06},{"x":1.13,"y":-0.08},{"x":1.13,"y":-0.22},{"x":1.13,"y":-0.36},{"x":1.13,"y":-0.5},{"x":1.13,"y":-0.66},{"x":1.13,"y":-1.3},{"x":1.14,"y":0.15},{"x":1.14,"y":0.01},{"x":1.14,"y":-0.13},{"x":1.14,"y":-0.27},{"x":1.14,"y":-0.41},{"x":1.14,"y":-0.55},{"x":1.14,"y":-0.7},{"x":1.15,"y":0.12},{"x":1.15,"y":-0.02},{"x":1.15,"y":-0.16},{"x":1.15,"y":-0.3},{"x":1.15,"y":-0.44},{"x":1.15,"y":-0.58},{"x":1.15,"y":-0.72},{"x":1.16,"y":0.08},{"x":1.16,"y":-0.06},{"x":1.16,"y":-0.2},{"x":1.16,"y":-0.34},{"x":1.16,"y":-0.48},{"x":1.16,"y":-0.62},{"x":1.16,"y":-1.21},{"x":1.17,"y":0.05},{"x":1.17,"y":-0.09},{"x":1.17,"y":-0.23},{"x":1.17,"y":-0.37},{"x":1.17,"y":-0.51},{"x":1.17,"y":-0.65},{"x":1.17,"y":-0.8},{"x":1.18,"y":0.02},{"x":1.18,"y":-0.12},{"x":1.18,"y":-0.26},{"x":1.18,"y":-0.4},{"x":1.18,"y":-0.54},{"x":1.18,"y":-0.68},{"x":1.19,"y":0.0},{"x":1.19,"y":-0.14},{"x":1.19,"y":-0.28},{"x":1.19,"y":-0.42},{"x":1.19,"y":-0.56},{"x":1.19,"y":-0.7},{"x":1.19,"y":-0.85},{"x":1.2,"y":-0.04},{"x":1.2,"y":-0.18},{"x":1.2,"y":-0.32},{"x":1.2,"y":-0.46},{"x":1.2,"y":-0.6},{"x":1.2,"y":-0.75},{"x":1.2,"y":-1.81},{"x":1.21,"y":-0.07},{"x":1.21,"y":-0.21},{"x":1.21,"y":-0.35},{"x":1.21,"y":-0.49},{"x":1.21,"y":-0.63},{"x":1.21,"y":-0.78},{"x":1.22,"y":-0.1},{"x":1.22,"y":-0.24},{"x":1.22,"y":-0.38},{"x":1.22,"y":-0.52},{"x":1.22,"y":-0.66},{"x":1.22,"y":-0.82},{"x":1.22,"y":-0.95},{"x":1.23,"y":-0.13},{"x":1.23,"y":-0.27},{"x":1.23,"y":-0.41},{"x":1.23,"y":-0.55},{"x":1.23,"y":-0.69},{"x":1.23,"y":-0.84},{"x":1.24,"y":-0.15},{"x":1.24,"y":-0.29},{"x":1.24,"y":-0.43},{"x":1.24,"y":-0.57},{"x":1.24,"y":-0.71},{"x":1.24,"y":-0.88},{"x":1.24,"y":-1.94},{"x":1.25,"y":-0.18},{"x":1.25,"y":-0.32},{"x":1.25,"y":-0.46},{"x":1.25,"y":-0.6},{"x":1.25,"y":-0.74},{"x":1.25,"y":-0.9},{"x":1.25,"y":-1.38},{"x":1.26,"y":-0.2},{"x":1.26,"y":-0.34},{"x":1.26,"y":-0.48},{"x":1.26,"y":-0.62},{"x":1.26,"y":-0.76},{"x":1.26,"y":-0.92},{"x":1.27,"y":-0.23},{"x":1.27,"y":-0.37},{"x":1.27,"y":-0.51},{"x":1.27,"y":-0.65},{"x":1.27,"y":-0.8},{"x":1.28,"y":-0.26},{"x":1.28,"y":-0.4},{"x":1.28,"y":-0.54},{"x":1.28,"y":-0.68},{"x":1.28,"y":-0.84},{"x":1.29,"y":-0.28},{"x":1.29,"y":-0.42},{"x":1.29,"y":-0.56},{"x":1.29,"y":-0.7},{"x":1.29,"y":-0.86},{"x":1.29,"y":-1.38},{"x":1.3,"y":-0.3},{"x":1.3,"y":-0.44},{"x":1.3,"y":-0.58},{"x":1.3,"y":-0.72},{"x":1.3,"y":-0.88},{"x":1.31,"y":-0.33},{"x":1.31,"y":-0.47},{"x":1.31,"y":-0.61},{"x":1.31,"y":-0.75},{"x":1.31,"y":-0.9},{"x":1.32,"y":-0.36},{"x":1.32,"y":-0.5},{"x":1.32,"y":-0.64},{"x":1.32,"y":-0.78},{"x":1.33,"y":-0.38},{"x":1.33,"y":-0.52},{"x":1.33,"y":-0.66},{"x":1.33,"y":-0.8},{"x":1.33,"y":-0.95},{"x":1.34,"y":-0.4},{"x":1.34,"y":-0.54},{"x":1.34,"y":-0.68},{"x":1.34,"y":-0.82},{"x":1.35,"y":-0.43},{"x":1.35,"y":-0.57},{"x":1.35,"y":-0.71},{"x":1.35,"y":-0.85},{"x":1.35,"y":-0.98},{"x":1.36,"y":-0.46},{"x":1.36,"y":-0.6},{"x":1.36,"y":-0.74},{"x":1.36,"y":-0.88},{"x":1.37,"y":-0.48},{"x":1.37,"y":-0.62},{"x":1.37,"y":-0.76},{"x":1.37,"y":-0.9},{"x":1.38,"y":-0.5},{"x":1.38,"y":-0.64},{"x":1.38,"y":-0.78},{"x":1.38,"y":-0.92},{"x":1.38,"y":-1.05},{"x":1.39,"y":-0.53},{"x":1.39,"y":-0.67},{"x":1.39,"y":-0.81},{"x":1.39,"y":-0.95},{"x":1.4,"y":-0.55},{"x":1.4,"y":-0.69},{"x":1.4,"y":-0.83},{"x":1.4,"y":-0.97},{"x":1.4,"y":-1.08},{"x":1.41,"y":-0.58},{"x":1.41,"y":-0.72},{"x":1.41,"y":-0.86},{"x":1.41,"y":-1.0},{"x":1.42,"y":-0.62},{"x":1.42,"y":-0.76},{"x":1.42,"y":-0.9},{"x":1.42,"y":-1.02},{"x":1.43,"y":-0.65},{"x":1.43,"y":-0.79},{"x":1.43,"y":-0.93},{"x":1.43,"y":-1.19},{"x":1.44,"y":-0.68},{"x":1.44,"y":-0.82},{"x":1.44,"y":-0.96},{"x":1.45,"y":-0.72},{"x":1.45,"y":-0.86},{"x":1.45,"y":-1.0},{"x":1.46,"y":-0.75},{"x":1.46,"y":-0.89},{"x":1.46,"y":-1.05},{"x":1.47,"y":-0.8},{"x":1.47,"y":-0.94},{"x":1.47,"y":-1.08},{"x":1.47,"y":-1.36},{"x":1.48,"y":-0.85},{"x":1.48,"y":-0.99},{"x":1.5,"y":-0.9},{"x":1.5,"y":-1.04},{"x":1.5,"y":-1.18},{"x":1.5,"y":-1.27},{"x":1.52,"y":-1.0},{"x":1.52,"y":-1.12},{"x":1.55,"y":-1.05},{"x":1.59,"y":-2.12},{"x":1.6,"y":-1.46},{"x":1.65,"y":-1.52},{"x":1.67,"y":-1.46},{"x":1.69,"y":-1.81},{"x":1.72,"y":-1.7}],
 "e":[{"x":1.19,"y":3.79},{"x":1.23,"y":3.79},{"x":0.55,"y":3.4},{"x":1.43,"y":3.4},{"x":0.82,"y":3.28},{"x":1.83,"y":3.28},{"x":1.25,"y":3.09},{"x":1.27,"y":3.05},{"x":0.68,"y":2.97},{"x":0.72,"y":2.95},{"x":1.04,"y":2.91},{"x":1.91,"y":2.83},{"x":1.2,"y":2.74},{"x":0.43,"y":2.66},{"x":0.79,"y":2.77},{"x":0.67,"y":2.57},{"x":0.7,"y":2.43},{"x":0.88,"y":2.57},{"x":0.96,"y":2.57},{"x":1.0,"y":2.52},{"x":1.04,"y":2.43},{"x":1.13,"y":2.49},{"x":1.17,"y":2.43},{"x":1.39,"y":2.45},{"x":1.59,"y":2.57},{"x":1.71,"y":2.52},{"x":1.74,"y":2.43},{"x":1.82,"y":2.43},{"x":1.78,"y":2.28},{"x":1.8,"y":2.2},{"x":0.31,"y":2.25},{"x":0.58,"y":2.2},{"x":0.6,"y":2.08},{"x":0.67,"y":2.08},{"x":0.94,"y":2.08},{"x":0.96,"y":1.87},{"x":1.04,"y":1.87},{"x":1.04,"y":2.25},{"x":1.18,"y":1.94},{"x":1.17,"y":1.99},{"x":1.28,"y":2.2},{"x":1.44,"y":2.28},{"x":1.39,"y":2.02},{"x":1.4,"y":1.97},{"x":1.55,"y":2.2},{"x":1.75,"y":2.08},{"x":1.9,"y":1.97},{"x":1.94,"y":1.91},{"x":1.97,"y":1.87},{"x":2.01,"y":1.97},{"x":2.04,"y":1.87},{"x":2.06,"y":2.08},{"x":2.03,"y":1.68},{"x":2.09,"y":1.62},{"x":1.66,"y":1.87},{"x":1.67,"y":1.73},{"x":1.68,"y":1.79},{"x":1.39,"y":1.73},{"x":1.4,"y":1.68},{"x":1.55,"y":1.62},{"x":1.61,"y":1.45},{"x":1.63,"y":1.39},{"x":1.55,"y":1.33},{"x":1.34,"y":1.27},{"x":1.94,"y":1.5},{"x":1.95,"y":1.18},{"x":2.01,"y":1.04},{"x":2.22,"y":1.02},{"x":2.25,"y":1.45},{"x":2.33,"y":1.41},{"x":2.27,"y":2.14},{"x":2.38,"y":1.85},{"x":2.42,"y":1.7},{"x":2.58,"y":1.68},{"x":2.62,"y":2.14},{"x":2.64,"y":1.91},{"x":2.83,"y":1.64},{"x":2.94,"y":1.3},{"x":2.91,"y":0.98},{"x":2.97,"y":0.64},{"x":2.73,"y":0.87},{"x":3.56,"y":0.81},{"x":1.81,"y":0.56},{"x":1.86,"y":0.67},{"x":1.81,"y":0.6},{"x":2.11,"y":0.12},{"x":2.29,"y":-0.06},
 {"x":0.46,"y":1.03},{"x":0.46,"y":0.88},{"x":0.46,"y":0.72},{"x":0.53,"y":0.95},{"x":0.53,"y":0.8},{"x":0.53,"y":0.64},{"x":0.53,"y":0.52},{"x":0.6,"y":0.94},{"x":0.6,"y":0.78},{"x":0.6,"y":0.62},{"x":0.6,"y":0.48},{"x":0.67,"y":0.84},{"x":0.67,"y":0.67},{"x":0.67,"y":0.5},{"x":0.67,"y":0.38},{"x":0.74,"y":0.86},{"x":0.74,"y":0.69},{"x":0.74,"y":0.52},{"x":0.74,"y":0.36},{"x":0.81,"y":0.74},{"x":0.81,"y":0.56},{"x":0.81,"y":0.39},{"x":0.81,"y":0.24},{"x":0.88,"y":0.77},{"x":0.88,"y":0.6},{"x":0.88,"y":0.42},{"x":0.88,"y":0.24},{"x":0.95,"y":0.65},{"x":0.95,"y":0.47},{"x":0.95,"y":0.28},{"x":0.95,"y":0.12},{"x":1.02,"y":0.68},{"x":1.02,"y":0.5},{"x":1.02,"y":0.31},{"x":1.02,"y":0.11},{"x":1.09,"y":0.56},{"x":1.09,"y":0.37},{"x":1.09,"y":0.18},{"x":1.09,"y":0.0},{"x":1.16,"y":0.58},{"x":1.16,"y":0.4},{"x":1.16,"y":0.21},{"x":1.16,"y":0.01},{"x":1.16,"y":-0.15},{"x":1.23,"y":0.46},{"x":1.23,"y":0.27},{"x":1.23,"y":0.08},{"x":1.23,"y":-0.1},{"x":1.3,"y":0.48},{"x":1.3,"y":0.3},{"x":1.3,"y":0.11},{"x":1.3,"y":-0.09},{"x":1.3,"y":-0.22},{"x":1.37,"y":0.36},{"x":1.37,"y":0.18},{"x":1.37,"y":0.0},{"x":1.37,"y":-0.18},{"x":1.44,"y":0.39},{"x":1.44,"y":0.21},{"x":1.44,"y":0.02},{"x":1.44,"y":-0.18},{"x":1.44,"y":-0.3},{"x":1.51,"y":0.27},{"x":1.51,"y":0.09},{"x":1.51,"y":-0.1},{"x":1.51,"y":-0.28},{"x":1.58,"y":0.3},{"x":1.58,"y":0.12},{"x":1.58,"y":-0.06},{"x":1.58,"y":-0.26},{"x":1.58,"y":-0.4},{"x":1.65,"y":0.18},{"x":1.65,"y":0.0},{"x":1.65,"y":-0.17},{"x":1.65,"y":-0.35},{"x":1.72,"y":0.22},{"x":1.72,"y":0.04},{"x":1.72,"y":-0.13},{"x":1.72,"y":-0.32},{"x":1.72,"y":-0.45},{"x":1.79,"y":0.1},{"x":1.79,"y":-0.08},{"x":1.79,"y":-0.25},{"x":1.79,"y":-0.42},{"x":1.86,"y":0.14},{"x":1.86,"y":-0.04},{"x":1.86,"y":-0.2},{"x":1.86,"y":-0.39},{"x":1.93,"y":0.02},{"x":1.93,"y":-0.15},{"x":1.93,"y":-0.32},{"x":1.93,"y":-0.48},{"x":2.0,"y":0.06},{"x":2.0,"y":-0.11},{"x":2.0,"y":-0.28},{"x":2.0,"y":-0.46},{"x":2.07,"y":-0.06},{"x":2.07,"y":-0.23},{"x":2.07,"y":-0.4},{"x":2.07,"y":-0.55},{"x":2.14,"y":-0.04},{"x":2.14,"y":-0.2},{"x":2.14,"y":-0.36},{"x":2.14,"y":-0.54},{"x":2.21,"y":-0.16},{"x":2.21,"y":-0.32},{"x":2.21,"y":-0.48},{"x":2.21,"y":-0.63},{"x":2.28,"y":-0.14},{"x":2.28,"y":-0.3},{"x":2.28,"y":-0.45},{"x":2.28,"y":-0.62},{"x":2.35,"y":-0.26},{"x":2.35,"y":-0.42},{"x":2.35,"y":-0.57},{"x":2.35,"y":-0.71},{"x":2.42,"y":-0.23},{"x":2.42,"y":-0.39},{"x":2.42,"y":-0.54},{"x":2.42,"y":-0.7},{"x":2.49,"y":-0.35},{"x":2.49,"y":-0.51},{"x":2.49,"y":-0.66},{"x":2.49,"y":-0.8},{"x":2.56,"y":-0.34},{"x":2.56,"y":-0.5},{"x":2.56,"y":-0.64},{"x":2.56,"y":-0.79},{"x":2.63,"y":-0.48},{"x":2.63,"y":-0.63},{"x":2.63,"y":-0.77},{"x":2.63,"y":-0.9},{"x":2.7,"y":-0.48},{"x":2.7,"y":-0.62},{"x":2.7,"y":-0.76},{"x":2.7,"y":-0.89},{"x":2.77,"y":-0.61},{"x":2.77,"y":-0.75},{"x":2.77,"y":-0.88},{"x":2.77,"y":-1.0},{"x":2.84,"y":-0.62},{"x":2.84,"y":-0.74},{"x":2.84,"y":-0.88},{"x":2.84,"y":-0.99},{"x":2.91,"y":-0.76},{"x":2.91,"y":-0.88},{"x":2.91,"y":-1.0},{"x":2.91,"y":-1.1},{"x":2.98,"y":-0.77},{"x":2.98,"y":-0.88},{"x":2.98,"y":-1.0},{"x":2.98,"y":-1.1},{"x":3.06,"y":-0.88},{"x":3.06,"y":-1.02},{"x":3.06,"y":-1.16},{"x":3.14,"y":-0.87},{"x":3.14,"y":-1.0},{"x":3.14,"y":-1.16},{"x":3.22,"y":-0.98},{"x":3.22,"y":-1.12},{"x":3.22,"y":-1.25},{"x":3.3,"y":-0.97},{"x":3.3,"y":-1.1},{"x":3.3,"y":-1.25},{"x":3.38,"y":-1.08},{"x":3.38,"y":-1.22},{"x":3.38,"y":-1.35},{"x":3.46,"y":-1.07},{"x":3.46,"y":-1.2},{"x":3.46,"y":-1.35},{"x":3.54,"y":-1.18},{"x":3.54,"y":-1.32},{"x":3.54,"y":-1.45},{"x":3.62,"y":-1.17},{"x":3.62,"y":-1.31},{"x":3.62,"y":-1.45},{"x":3.7,"y":-1.28},{"x":3.7,"y":-1.42},{"x":3.7,"y":-1.55},{"x":3.78,"y":-1.27},{"x":3.78,"y":-1.41},{"x":3.78,"y":-1.55},{"x":3.86,"y":-1.36},{"x":3.86,"y":-1.5},{"x":3.86,"y":-1.63},{"x":3.94,"y":-1.36},{"x":3.94,"y":-1.52},{"x":4.02,"y":-1.45},{"x":4.02,"y":-1.6},{"x":4.1,"y":-1.45},{"x":4.1,"y":-1.62},{"x":4.18,"y":-1.55},{"x":4.18,"y":-1.72},{"x":4.3,"y":-1.56},{"x":4.3,"y":-1.78},{"x":4.4,"y":-1.66},
 {"x":0.19,"y":1.1},{"x":0.2,"y":0.93},{"x":0.27,"y":0.79},{"x":0.32,"y":1.06},{"x":0.4,"y":0.9},{"x":0.5,"y":0.87},{"x":0.44,"y":0.56},{"x":0.51,"y":-0.09},{"x":0.6,"y":-0.21},{"x":0.63,"y":-0.17},{"x":0.71,"y":-0.11},{"x":0.83,"y":-0.49},{"x":1.11,"y":-1.1},{"x":1.2,"y":-0.83},{"x":1.29,"y":-0.96},{"x":1.39,"y":-1.1},{"x":1.45,"y":-0.92},{"x":2.14,"y":-1.56},{"x":2.24,"y":-1.91},{"x":2.65,"y":-1.35},{"x":2.88,"y":-1.62},{"x":3.02,"y":-1.64},{"x":2.46,"y":-1.18},{"x":3.17,"y":-1.56},{"x":3.34,"y":-1.56},{"x":3.93,"y":-1.85},{"x":3.98,"y":-1.73},{"x":4.06,"y":-1.71},{"x":4.13,"y":-2.27},{"x":4.71,"y":-2.33},{"x":3.8,"y":-1.56},{"x":3.68,"y":-1.56},{"x":3.48,"y":-1.33},{"x":3.25,"y":-1.16},{"x":0.25,"y":0.85},{"x":0.3,"y":0.95},{"x":0.35,"y":0.75},{"x":0.85,"y":0.05},{"x":0.92,"y":-0.12},{"x":1.0,"y":-0.25},{"x":1.1,"y":-0.4},{"x":1.25,"y":-0.55},{"x":1.35,"y":-0.45},{"x":1.55,"y":-0.62},{"x":1.75,"y":-0.7},{"x":1.95,"y":-0.8},{"x":2.3,"y":-0.95},{"x":2.7,"y":-1.15}]
},
"vconcat":[
 {"hconcat":[
  {"width":369,"height":257,"title":"A","view":{"fill":"#e9e9e9","stroke":null},
   "layer":[
    {"data":{"values":[{}]},"mark":{"type":"rect","color":"#ffffff"},
     "encoding":{"x":{"datum":-0.096,"type":"quantitative","scale":{"domain":[-0.658,5.265],"nice":false,"zero":false},"axis":{"values":[0,1,2,3,4,5],"offset":-35,"title":"ALP12","titleX":197.5}},"x2":{"datum":5.12},
      "y":{"datum":4.022,"type":"quantitative","scale":{"domain":[-3.54,4.423],"nice":false,"zero":false},"axis":{"values":[-0.693147,0,0.693147,1.098612],"labelExpr":"format(exp(datum.value),'.2~g')","offset":-35,"title":"Hazard ratio","titleX":-18,"titleY":117.5}},"y2":{"datum":-2.46}}},
    {"data":{"name":"g"},"mark":{"type":"rule","color":"#e4e4e4"},"encoding":{"y":{"field":"t","type":"quantitative"},"x":{"datum":-0.096,"type":"quantitative"},"x2":{"datum":5.12}}},
    {"data":{"name":"ac"},"mark":{"type":"area","color":"#adadad"},"encoding":{"x":{"field":"x","type":"quantitative"},"y":{"field":"lo","type":"quantitative"},"y2":{"field":"hi"}}},
    {"data":{"name":"ac"},"mark":{"type":"line","color":"#4a4a4a","strokeWidth":1},"encoding":{"x":{"field":"x","type":"quantitative"},"y":{"field":"fit","type":"quantitative"}}},
    {"data":{"name":"a"},"mark":{"type":"circle","size":25,"color":"#303030","opacity":1},"encoding":{"x":{"field":"x","type":"quantitative"},"y":{"field":"y","type":"quantitative"}}},
    {"data":{"values":[{}]},"mark":{"type":"rule","color":"#8a8a8a"},"encoding":{"x":{"datum":-0.096,"type":"quantitative"},"y":{"datum":-2.46,"type":"quantitative"},"y2":{"datum":4.022}}},
    {"data":{"values":[{}]},"mark":{"type":"rule","color":"#8a8a8a"},"encoding":{"x":{"datum":-0.096,"type":"quantitative"},"x2":{"datum":5.12},"y":{"datum":-2.46,"type":"quantitative"}}}
   ]},
  {"width":368,"height":257,"title":"B","view":{"fill":"#e9e9e9","stroke":null},
   "layer":[
    {"data":{"values":[{}]},"mark":{"type":"rect","color":"#ffffff"},
     "encoding":{"x":{"datum":-0.064,"type":"quantitative","scale":{"domain":[-0.65,5.24],"nice":false,"zero":false},"axis":{"values":[0,1,2,3,4,5],"offset":-34.3,"title":"Bil12","titleX":197.3}},"x2":{"datum":5.08},
      "y":{"datum":3.913,"type":"quantitative","scale":{"domain":[-2.512,4.237],"nice":false,"zero":false},"axis":{"values":[-0.693147,0,0.693147,1.098612],"labelExpr":"format(exp(datum.value),'.2~g')","offset":-36.6,"title":"Hazard ratio","titleX":-20,"titleY":117.5}},"y2":{"datum":-1.611}}},
    {"data":{"name":"g"},"mark":{"type":"rule","color":"#e4e4e4"},"encoding":{"y":{"field":"t","type":"quantitative"},"x":{"datum":-0.064,"type":"quantitative"},"x2":{"datum":5.08}}},
    {"data":{"name":"bc"},"mark":{"type":"area","color":"#adadad"},"encoding":{"x":{"field":"x","type":"quantitative"},"y":{"field":"lo","type":"quantitative"},"y2":{"field":"hi"}}},
    {"data":{"name":"bc"},"mark":{"type":"line","color":"#4a4a4a","strokeWidth":1},"encoding":{"x":{"field":"x","type":"quantitative"},"y":{"field":"fit","type":"quantitative"}}},
    {"data":{"name":"b"},"mark":{"type":"circle","size":25,"color":"#303030","opacity":1},"encoding":{"x":{"field":"x","type":"quantitative"},"y":{"field":"y","type":"quantitative"}}},
    {"data":{"values":[{}]},"mark":{"type":"rule","color":"#8a8a8a"},"encoding":{"x":{"datum":-0.064,"type":"quantitative"},"y":{"datum":-1.611,"type":"quantitative"},"y2":{"datum":3.913}}},
    {"data":{"values":[{}]},"mark":{"type":"rule","color":"#8a8a8a"},"encoding":{"x":{"datum":-0.064,"type":"quantitative"},"x2":{"datum":5.08},"y":{"datum":-1.611,"type":"quantitative"}}}
   ]}
 ],"spacing":43},
 {"hconcat":[
  {"width":369,"height":257,"title":"C","view":{"fill":"#e9e9e9","stroke":null},
   "layer":[
    {"data":{"values":[{}]},"mark":{"type":"rect","color":"#ffffff"},
     "encoding":{"x":{"datum":-0.096,"type":"quantitative","scale":{"domain":[-0.656,5.251],"nice":false,"zero":false},"axis":{"values":[0,1,2,3,4,5],"offset":-33.4,"title":"TA12","titleX":197.5}},"x2":{"datum":5.107},
      "y":{"datum":3.574,"type":"quantitative","scale":{"domain":[-2.551,3.865],"nice":false,"zero":false},"axis":{"values":[-0.693147,0,0.693147,1.098612],"labelExpr":"format(exp(datum.value),'.2~g')","offset":-35,"title":"Hazard ratio","titleX":-18.3,"titleY":117.7}},"y2":{"datum":-1.718}}},
    {"data":{"name":"g"},"mark":{"type":"rule","color":"#e4e4e4"},"encoding":{"y":{"field":"t","type":"quantitative"},"x":{"datum":-0.096,"type":"quantitative"},"x2":{"datum":5.107}}},
    {"data":{"name":"cc"},"mark":{"type":"area","color":"#adadad"},"encoding":{"x":{"field":"x","type":"quantitative"},"y":{"field":"lo","type":"quantitative"},"y2":{"field":"hi"}}},
    {"data":{"name":"cc"},"mark":{"type":"line","color":"#4a4a4a","strokeWidth":1},"encoding":{"x":{"field":"x","type":"quantitative"},"y":{"field":"fit","type":"quantitative"}}},
    {"data":{"name":"c"},"mark":{"type":"circle","size":25,"color":"#303030","opacity":1},"encoding":{"x":{"field":"x","type":"quantitative"},"y":{"field":"y","type":"quantitative"}}},
    {"data":{"values":[{}]},"mark":{"type":"rule","color":"#8a8a8a"},"encoding":{"x":{"datum":-0.096,"type":"quantitative"},"y":{"datum":-1.718,"type":"quantitative"},"y2":{"datum":3.574}}},
    {"data":{"values":[{}]},"mark":{"type":"rule","color":"#8a8a8a"},"encoding":{"x":{"datum":-0.096,"type":"quantitative"},"x2":{"datum":5.107},"y":{"datum":-1.718,"type":"quantitative"}}}
   ]},
  {"width":368,"height":257,"title":"D","view":{"fill":"#e9e9e9","stroke":null},
   "layer":[
    {"data":{"values":[{}]},"mark":{"type":"rect","color":"#ffffff"},
     "encoding":{"x":{"datum":0.699,"type":"quantitative","scale":{"domain":[0.572,1.85],"nice":false,"zero":false},"axis":{"values":[0.8,1,1.2,1.4,1.6,1.8],"labelExpr":"datum.value < 0.9 ? '.8' : format(datum.value,'~g')","offset":-33.4,"title":"Albumin","titleX":197.3}},"x2":{"datum":1.815},
      "y":{"datum":4.323,"type":"quantitative","scale":{"domain":[-3.657,4.704],"nice":false,"zero":false},"axis":{"values":[-0.693147,0,0.693147,1.098612],"labelExpr":"format(exp(datum.value),'.2~g')","offset":-36.6,"title":"Hazard ratio","titleX":-20,"titleY":117.7}},"y2":{"datum":-2.571}}},
    {"data":{"name":"g"},"mark":{"type":"rule","color":"#e4e4e4"},"encoding":{"y":{"field":"t","type":"quantitative"},"x":{"datum":0.699,"type":"quantitative"},"x2":{"datum":1.815}}},
    {"data":{"name":"dc"},"mark":{"type":"area","color":"#adadad"},"encoding":{"x":{"field":"x","type":"quantitative"},"y":{"field":"lo","type":"quantitative"},"y2":{"field":"hi"}}},
    {"data":{"name":"dc"},"mark":{"type":"line","color":"#4a4a4a","strokeWidth":1},"encoding":{"x":{"field":"x","type":"quantitative"},"y":{"field":"fit","type":"quantitative"}}},
    {"data":{"name":"d"},"mark":{"type":"circle","size":25,"color":"#303030","opacity":1},"encoding":{"x":{"field":"x","type":"quantitative"},"y":{"field":"y","type":"quantitative"}}},
    {"data":{"values":[{}]},"mark":{"type":"rule","color":"#8a8a8a"},"encoding":{"x":{"datum":0.699,"type":"quantitative"},"y":{"datum":-2.571,"type":"quantitative"},"y2":{"datum":4.323}}},
    {"data":{"values":[{}]},"mark":{"type":"rule","color":"#8a8a8a"},"encoding":{"x":{"datum":0.699,"type":"quantitative"},"x2":{"datum":1.815},"y":{"datum":-2.571,"type":"quantitative"}}}
   ]}
 ],"spacing":43},
 {"hconcat":[
  {"width":182,"height":10,"data":{"values":[{}]},"mark":{"type":"point","opacity":0}},
  {"width":371,"height":258,"title":"E","view":{"fill":"#e9e9e9","stroke":null},
   "layer":[
    {"data":{"values":[{}]},"mark":{"type":"rect","color":"#ffffff"},
     "encoding":{"x":{"datum":-0.107,"type":"quantitative","scale":{"domain":[-0.684,5.267],"nice":false,"zero":false},"axis":{"values":[0,1,2,3,4,5],"offset":-33.7,"title":"Platelet","titleX":198.5}},"x2":{"datum":5.107},
      "y":{"datum":3.931,"type":"quantitative","scale":{"domain":[-4.543,4.394],"nice":false,"zero":false},"axis":{"values":[-0.693147,0,0.693147,1.098612],"labelExpr":"format(exp(datum.value),'.2~g')","offset":-36,"title":"Hazard ratio","titleX":-17.7,"titleY":118.8}},"y2":{"datum":-3.375}}},
    {"data":{"name":"g"},"mark":{"type":"rule","color":"#e4e4e4"},"encoding":{"y":{"field":"t","type":"quantitative"},"x":{"datum":-0.107,"type":"quantitative"},"x2":{"datum":5.107}}},
    {"data":{"name":"ec"},"mark":{"type":"area","color":"#adadad"},"encoding":{"x":{"field":"x","type":"quantitative"},"y":{"field":"lo","type":"quantitative"},"y2":{"field":"hi"}}},
    {"data":{"name":"ec"},"mark":{"type":"line","color":"#4a4a4a","strokeWidth":1},"encoding":{"x":{"field":"x","type":"quantitative"},"y":{"field":"fit","type":"quantitative"}}},
    {"data":{"name":"e"},"mark":{"type":"circle","size":25,"color":"#303030","opacity":1},"encoding":{"x":{"field":"x","type":"quantitative"},"y":{"field":"y","type":"quantitative"}}},
    {"data":{"values":[{}]},"mark":{"type":"rule","color":"#8a8a8a"},"encoding":{"x":{"datum":-0.107,"type":"quantitative"},"y":{"datum":-3.375,"type":"quantitative"},"y2":{"datum":3.931}}},
    {"data":{"values":[{}]},"mark":{"type":"rule","color":"#8a8a8a"},"encoding":{"x":{"datum":-0.107,"type":"quantitative"},"x2":{"datum":5.107},"y":{"datum":-3.375,"type":"quantitative"}}}
   ]}
 ],"spacing":10}
]
}
